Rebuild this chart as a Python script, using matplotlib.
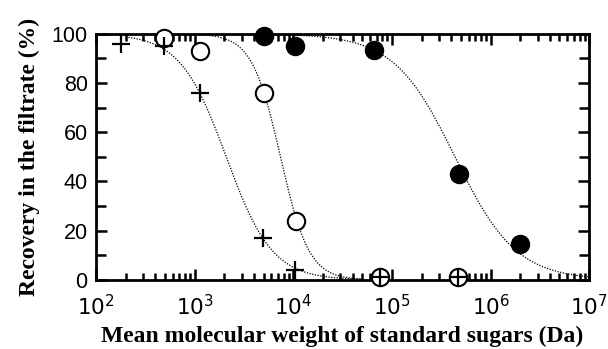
import numpy as np
import matplotlib
matplotlib.use("Agg")
import matplotlib.pyplot as plt
from matplotlib.ticker import LogLocator, MultipleLocator, NullFormatter

plt.rcParams['mathtext.fontset'] = 'custom'
plt.rcParams['mathtext.rm'] = 'Liberation Sans'
plt.rcParams['mathtext.it'] = 'Liberation Sans'

# data
plus_mw = [180, 490, 1120, 4900, 10300, 75000, 470000]
plus_rec = [96, 95, 76, 17, 4, 1, 1]
open_mw = [490, 1120, 5000, 10700, 75000, 470000]
open_rec = [98.5, 93, 76, 24, 1, 1]
filled_mw = [5000, 10500, 66000, 480000, 2.0e6]
filled_rec = [99, 95, 93.5, 43, 14.6]

# fitted sigmoid curves: (log10 of MW at 50%, slope, log10 range drawn)
fits = {
    'plus': (3.32, 1.86, (2.3, 4.7)),
    'open': (3.87, 3.0, (2.9, 4.7)),
    'filled': (5.64, 1.4, (3.6, 7.0)),
}

fig = plt.figure(figsize=(6.08, 3.49), dpi=100)
ax = fig.add_axes([0.158, 0.198, 0.811, 0.705])

for key, (m, k, (lo, hi)) in fits.items():
    lx = np.linspace(lo, hi, 300)
    ax.plot(10**lx, 100 / (1 + 10**(k * (lx - m))), ls=(0, (1, 1.2)), color='black', lw=0.9, zorder=1)

ax.plot(filled_mw, filled_rec, 'o', color='black', ms=13, zorder=3, clip_on=False)
ax.plot(open_mw, open_rec, 'o', mfc='white', mec='black', mew=1.5, ms=12.5, zorder=3, clip_on=False)
ax.plot(plus_mw, plus_rec, '+', color='black', mew=1.6, ms=12.5, zorder=4, clip_on=False)

ax.set_xscale('log')
ax.set_xlim(1e2, 1e7)
ax.set_ylim(0, 100)
ax.xaxis.set_major_locator(LogLocator(base=10, numticks=10))
ax.xaxis.set_minor_locator(LogLocator(base=10, subs=np.arange(2, 10), numticks=20))
ax.xaxis.set_minor_formatter(NullFormatter())
ax.yaxis.set_major_locator(MultipleLocator(20))
ax.yaxis.set_minor_locator(MultipleLocator(10))

ax.tick_params(which='both', direction='in', top=True, right=True, width=1.8)
ax.tick_params(which='major', length=8, labelsize=15.5)
ax.tick_params(axis='x', which='major', pad=10)
ax.tick_params(axis='y', which='major', pad=6)
ax.tick_params(which='minor', length=5)
ax.tick_params(axis='y', which='minor', length=7)
for lab in ax.get_yticklabels():
    lab.set_fontfamily('Liberation Sans')
for sp in ax.spines.values():
    sp.set_linewidth(2)

ax.set_xlabel('Mean molecular weight of standard sugars (Da)', fontfamily='Liberation Serif',
              fontweight='bold', fontsize=17, labelpad=5)
ax.set_ylabel('Recovery in the filtrate (%)', fontfamily='Liberation Serif',
              fontweight='bold', fontsize=17, labelpad=8)

fig.savefig('out.png', dpi=100)
